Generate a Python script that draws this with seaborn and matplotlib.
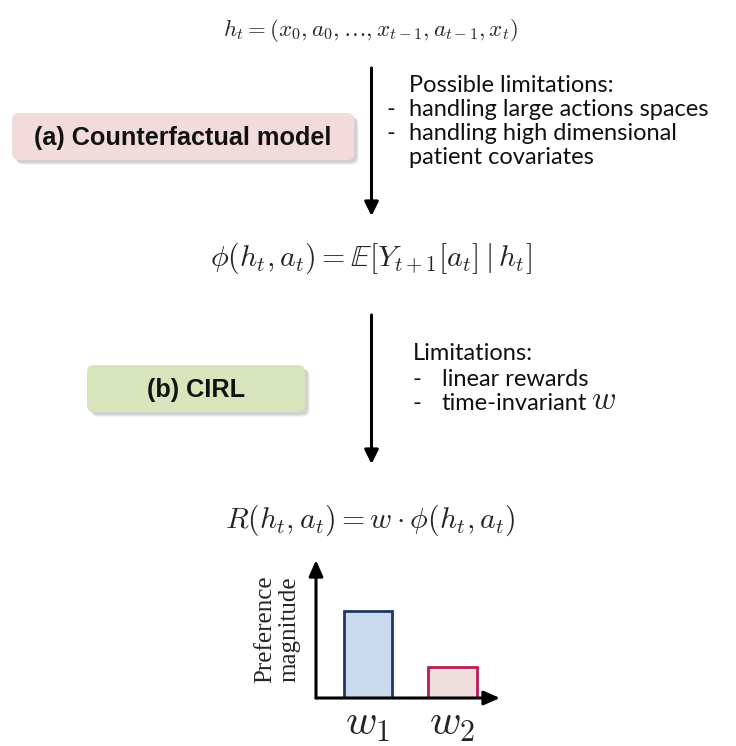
import matplotlib
matplotlib.use("Agg")
import matplotlib.pyplot as plt
from matplotlib.patches import FancyBboxPatch
import seaborn as sns
import pandas as pd

sns.set_theme(style="white")
plt.rcParams['font.family'] = ['Lato', 'DejaVu Sans']
plt.rcParams['mathtext.fontset'] = 'cm'

# diagram content
formula_top = r'$h_t = (x_0, a_0, \ldots, x_{t-1}, a_{t-1}, x_t)$'
formula_mid = r'$\phi(h_t, a_t) = \mathbb{E}[Y_{t+1}[a_t] \mid h_t]$'
formula_bot = r'$R(h_t, a_t) = w \cdot \phi(h_t, a_t)$'
box_labels = ['(a) Counterfactual model', '(b) CIRL']
box_colors = ['#f2dcdb', '#d8e4bc']
notes_a = ['Possible limitations:', '-', 'handling large actions spaces',
           '-', 'handling high dimensional', '', 'patient covariates']
notes_b = ['Limitations:', '-', 'linear rewards', '-', 'time-invariant']

# preference bars
weights = [r'$w_1$', r'$w_2$']
magnitude = [0.87, 0.31]
bar_fill = ['#c6d9f1', '#f2dcdb']
bar_edge = ['#1f3864', '#c0185a']

W, H = 736, 746
fig = plt.figure(figsize=(W / 100, H / 100), dpi=100)
ax = fig.add_axes([0, 0, 1, 1])
ax.set_xlim(0, W)
ax.set_ylim(H, 0)
ax.axis('off')

ax.text(370, 30, formula_top, fontsize=16.5, ha='center', va='center')
ax.text(371, 258, formula_mid, fontsize=21.5, ha='center', va='center')
ax.text(370, 520, formula_bot, fontsize=21.5, ha='center', va='center')

# arrows
for y0, y1 in [(68, 216), (315, 464)]:
    ax.annotate('', xy=(371.5, y1), xytext=(371.5, y0),
                arrowprops=dict(arrowstyle='-|>,head_width=0.35,head_length=0.7',
                                color='black', lw=2.2, shrinkA=0, shrinkB=0))

# boxes with soft shadow
boxes = [(12, 113, 342, 47), (87, 365, 218, 47)]
for (x, y, w, h), label, c in zip(boxes, box_labels, box_colors):
    for k, a in [(5, 0.08), (4, 0.12), (3, 0.18)]:
        ax.add_patch(FancyBboxPatch((x + k, y + k), w, h, boxstyle='round,pad=0,rounding_size=7',
                                    fc='#7f7f7f', ec='none', alpha=a))
    ax.add_patch(FancyBboxPatch((x, y), w, h, boxstyle='round,pad=0,rounding_size=7',
                                fc=c, ec='none'))
    ax.text(x + w / 2, y + h / 2 + 2, label, fontsize=18.2, fontweight='bold',
            family='Liberation Sans', ha='center', va='center', color='#111111')

# limitation notes
ys = [85, 109, 109, 133, 133, 157, 157]
xs = [409, 387, 409, 387, 409, 387, 409]
for t, x, y in zip(notes_a, xs, ys):
    ax.text(x, y, t, fontsize=17, ha='left', va='center', color='#111111')
ys = [354, 379, 379, 404, 404]
xs = [413, 413, 442, 413, 442]
for t, x, y in zip(notes_b, xs, ys):
    ax.text(x, y, t, fontsize=17, ha='left', va='center', color='#111111')
ax.text(591, 400, r'$w$', fontsize=24, ha='left', va='center')

# little bar chart
bx = fig.add_axes([316 / W, 48 / H, 184 / W, 138 / H])
df = pd.DataFrame({'weight': weights, 'magnitude': magnitude})
sns.barplot(data=df, x='weight', y='magnitude', hue='weight', palette=bar_fill,
            width=0.57, legend=False, ax=bx, linewidth=2)
for p, ec in zip(bx.patches, bar_edge):
    p.set_edgecolor(ec)
bx.set_xlim(-0.615, 1.562)
bx.set_ylim(0, 1.38)
bx.patch.set_alpha(0)
for s in bx.spines.values():
    s.set_visible(False)
bx.set_yticks([])
bx.tick_params(axis='x', length=0, pad=6, labelsize=31)
bx.set_xlabel('')
bx.set_ylabel('Preference\nmagnitude', family='Liberation Serif', fontsize=18,
              labelpad=11, linespacing=1.15)
arrow = dict(arrowstyle='-|>,head_width=0.35,head_length=0.8', color='black',
             lw=2.2, shrinkA=0, shrinkB=0)
bx.annotate('', xy=(0, 1.0), xytext=(0, 0), xycoords='axes fraction', arrowprops=arrow)
bx.annotate('', xy=(1.0, 0), xytext=(0, 0), xycoords='axes fraction', arrowprops=arrow)

fig.savefig('out.png', dpi=100)
